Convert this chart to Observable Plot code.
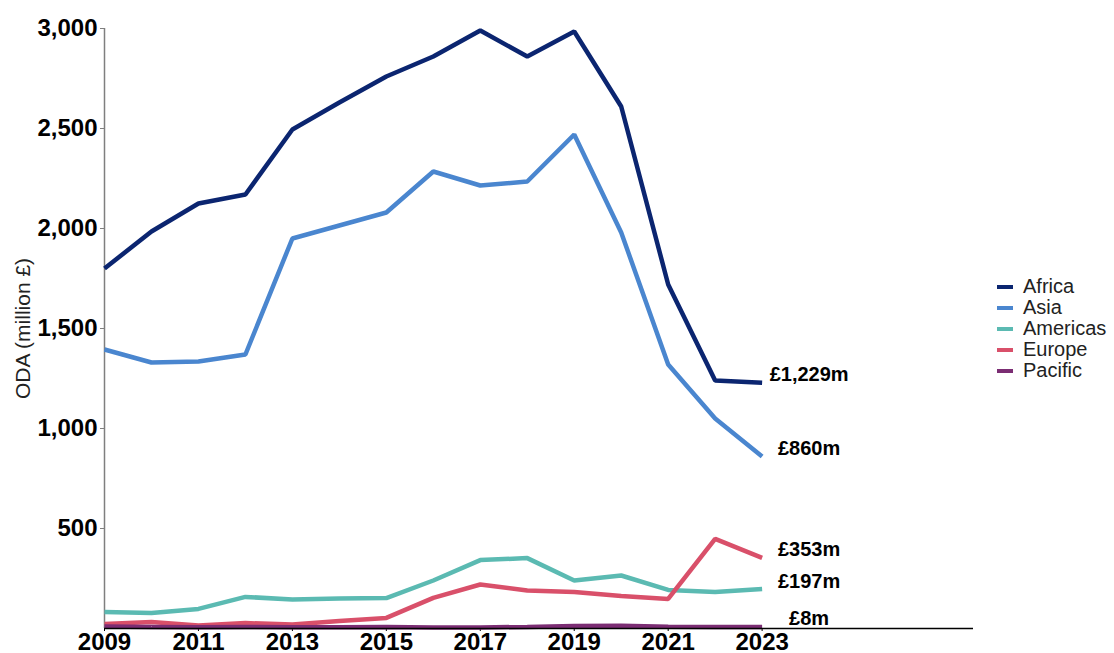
<!DOCTYPE html>
<html>
<head>
<meta charset="utf-8">
<script src="https://cdn.jsdelivr.net/npm/d3@7"></script>
<script src="https://cdn.jsdelivr.net/npm/@observablehq/plot@0.6"></script>
<style>
  html, body { margin: 0; padding: 0; background: #fff; overflow: hidden; width: 1114px; height: 653px; }
  #wrap { position: relative; width: 1114px; height: 653px; font-family: "Liberation Sans", Arial, sans-serif; }
  #legend { position: absolute; left: 997px; top: 276px; font-size: 20px; line-height: 21px; color: #222; }
  .row { display: flex; align-items: center; height: 21px; }
  .sw { width: 16px; height: 4px; margin-right: 10px; }
</style>
</head>
<body>
<div id="wrap"><div id="chart"></div><div id="legend"></div></div>
<script>
const years = [2009, 2010, 2011, 2012, 2013, 2014, 2015, 2016, 2017, 2018, 2019, 2020, 2021, 2022, 2023];
const regions = ["Africa", "Asia", "Americas", "Europe", "Pacific"];
const colors = ["#0b2570", "#4a86cf", "#5bbab2", "#d9506a", "#7b2d73"];
const africa   = [1800, 1985, 2125, 2170, 2495, 2630, 2760, 2860, 2990, 2860, 2985, 2610, 1720, 1240, 1229];
const asia     = [1395, 1330, 1335, 1370, 1950, 2015, 2080, 2285, 2215, 2235, 2470, 1980, 1320, 1050, 860];
const americas = [83, 78, 98, 158, 145, 150, 152, 240, 342, 352, 240, 265, 193, 182, 197];
const europe   = [23, 32, 15, 27, 20, 38, 53, 153, 220, 190, 182, 162, 148, 448, 353];
const pacific  = [10, 8, 6, 8, 6, 6, 7, 5, 5, 8, 12, 14, 9, 8, 8];
const endLabels = ["£1,229m", "£860m", "£197m", "£353m", "£8m"];
const xTicks = [2009, 2011, 2013, 2015, 2017, 2019, 2021, 2023];
const yTicks = [500, 1000, 1500, 2000, 2500, 3000];

const series = [africa, asia, americas, europe, pacific];
const data = regions.flatMap((r, i) => years.map((y, j) => ({region: r, year: y, value: series[i][j]})));
const last = regions.map((r, i) => ({region: r, year: years[years.length - 1], value: series[i][years.length - 1], label: endLabels[i]}));

const font = "'Liberation Sans', Arial, sans-serif";
const chart = Plot.plot({
  width: 1114,
  height: 653,
  marginLeft: 104,
  marginTop: 28,
  marginBottom: 25,
  marginRight: 141,
  style: {fontFamily: font, background: "#fff", color: "#000", overflow: "visible"},
  x: {domain: [2009, 2027.5]},
  y: {domain: [0, 3000]},
  color: {domain: regions, range: colors},
  marks: [
    Plot.ruleX([2009], {stroke: "#7f7f7f", strokeWidth: 1.5}),
    Plot.axisY({ticks: yTicks, tickFormat: d3.format(","), fontSize: 24, fontWeight: "bold", tickSize: 4, tickPadding: 3, stroke: "#7f7f7f", fill: "#000", label: null}),
    Plot.axisX({ticks: xTicks, tickFormat: d => String(d), fontSize: 24, fontWeight: "bold", tickSize: 3, tickPadding: 1, stroke: "#000", fill: "#000", label: null}),
    Plot.text(["ODA (million £)"], {frameAnchor: "left", textAnchor: "middle", rotate: -90, dx: -81, fontSize: 21, fill: "#222", fontFamily: font}),
    Plot.line(data, {x: "year", y: "value", z: "region", stroke: "region", strokeWidth: 4.5, strokeLinejoin: "miter", strokeLinecap: "butt"}),
    Plot.ruleY([0], {stroke: "#000", strokeWidth: 1.5}),
    Plot.text(last, {x: "year", y: "value", text: "label", dx: 47, dy: -8, textAnchor: "middle", fontSize: 20, fontWeight: "bold", fill: "#000"})
  ]
});
document.getElementById("chart").appendChild(chart);

const legend = document.getElementById("legend");
regions.forEach((r, i) => {
  const row = document.createElement("div");
  row.className = "row";
  const sw = document.createElement("span");
  sw.className = "sw";
  sw.style.background = colors[i];
  const t = document.createElement("span");
  t.textContent = r;
  row.appendChild(sw);
  row.appendChild(t);
  legend.appendChild(row);
});
</script>
</body>
</html>
